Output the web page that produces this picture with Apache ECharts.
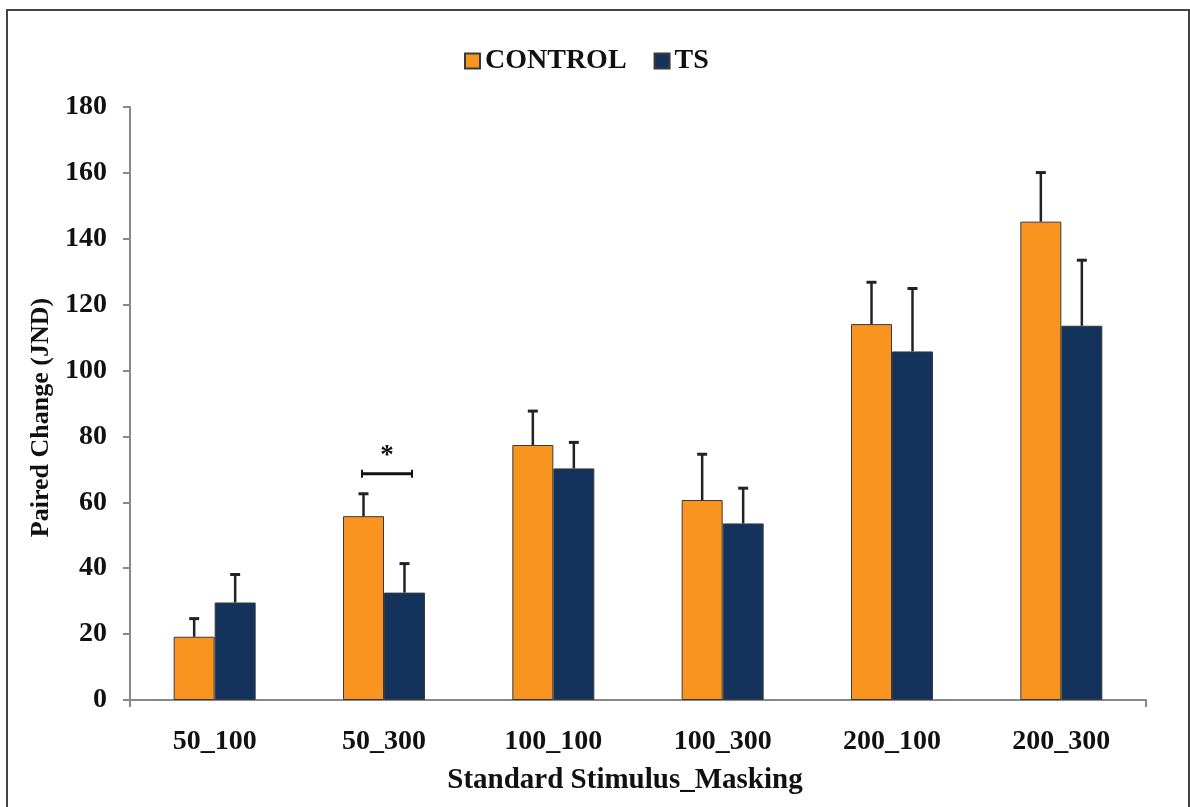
<!DOCTYPE html>
<html>
<head>
<meta charset="utf-8">
<script src="https://cdn.jsdelivr.net/npm/echarts@6/dist/echarts.min.js"></script>
<style>
html,body{margin:0;padding:0;background:#fff;}
#chart{width:1190px;height:807px;}
</style>
</head>
<body>
<div id="chart"></div>
<script>
const categories = ['50_100', '50_300', '100_100', '100_300', '200_100', '200_300'];
const controlValues = [19.2, 55.8, 77.4, 60.7, 114.1, 145.2];
const controlErrors = [5.5, 6.8, 10.3, 13.9, 12.7, 14.9];
const tsValues = [29.6, 32.6, 70.3, 53.6, 105.8, 113.6];
const tsErrors = [8.5, 8.8, 7.9, 10.7, 19.1, 19.9];
const yTicks = [0, 20, 40, 60, 80, 100, 120, 140, 160, 180];
const sigBrackets = [[1, 68.7, '*']];

const FONT = 'Liberation Serif';
const BAR_W = 41;

const chart = echarts.init(document.getElementById('chart'));

function errorSeries(name, values, errors, offsetSign) {
  return {
    name: name + ' error',
    type: 'custom',
    z: 5,
    silent: true,
    data: values.map((v, i) => [i, v, v + errors[i]]),
    renderItem: function (params, api) {
      const base = api.coord([api.value(0), api.value(1)]);
      const top = api.coord([api.value(0), api.value(2)]);
      const x = base[0] + offsetSign * BAR_W / 2;
      const style = { stroke: '#222', lineWidth: 2.5 };
      return {
        type: 'group',
        children: [
          { type: 'line', shape: { x1: x, y1: base[1], x2: x, y2: top[1] }, style: style },
          { type: 'line', shape: { x1: x - 5, y1: top[1], x2: x + 5, y2: top[1] }, style: { stroke: '#222', lineWidth: 3 } }
        ]
      };
    }
  };
}

const option = {
  backgroundColor: '#fff',
  animation: false,
  textStyle: { fontFamily: FONT },
  graphic: [{
    type: 'rect',
    shape: { x: 7, y: 10, width: 1182, height: 820 },
    style: { fill: 'none', stroke: '#444', lineWidth: 2 },
    silent: true
  }],
  legend: {
    top: 42,
    left: 459,
    itemWidth: 15,
    itemHeight: 15,
    itemGap: 27,
    icon: 'rect',
    data: ['CONTROL', 'TS'],
    textStyle: { fontFamily: FONT, fontWeight: 'bold', fontSize: 28, color: '#111' }
  },
  grid: { left: 130, right: 44, top: 107, bottom: 107, containLabel: false },
  xAxis: {
    type: 'category',
    data: categories,
    boundaryGap: true,
    name: 'Standard Stimulus_Masking',
    nameLocation: 'middle',
    nameGap: 66,
    nameTextStyle: { fontFamily: FONT, fontWeight: 'bold', fontSize: 29, color: '#111', padding: [0, 26, 0, 0] },
    axisLine: { show: true, lineStyle: { color: '#888', width: 2 } },
    axisTick: { show: true, length: 7, interval: function (i) { return i === 0; }, lineStyle: { color: '#888', width: 2 } },
    axisLabel: { fontFamily: FONT, fontWeight: 'bold', fontSize: 28, color: '#111', margin: 28, interval: 0 }
  },
  yAxis: {
    type: 'value',
    min: yTicks[0],
    max: yTicks[yTicks.length - 1],
    interval: yTicks[1] - yTicks[0],
    name: 'Paired Change (JND)',
    nameLocation: 'middle',
    nameRotate: 90,
    nameGap: 75,
    nameTextStyle: { fontFamily: FONT, fontWeight: 'bold', fontSize: 26, color: '#111', padding: [0, 28, 0, 0] },
    axisLine: { show: true, lineStyle: { color: '#888', width: 2 } },
    axisTick: { show: true, length: 7, lineStyle: { color: '#888', width: 2 } },
    splitLine: { show: false },
    axisLabel: { fontFamily: FONT, fontWeight: 'bold', fontSize: 28, color: '#111', margin: 23 }
  },
  series: [
    {
      name: 'CONTROL',
      type: 'bar',
      data: controlValues,
      barWidth: BAR_W,
      barGap: '0%',
      itemStyle: { color: '#F8941F', borderColor: '#3a3a3a', borderWidth: 1 }
    },
    {
      name: 'TS',
      type: 'bar',
      data: tsValues,
      barWidth: BAR_W,
      barGap: '0%',
      itemStyle: { color: '#13335D', borderColor: '#3a3a3a', borderWidth: 1 }
    },
    errorSeries('CONTROL', controlValues, controlErrors, -1),
    errorSeries('TS', tsValues, tsErrors, 1),
    {
      name: 'significance',
      type: 'custom',
      z: 6,
      silent: true,
      data: sigBrackets,
      renderItem: function (params, api) {
        const p = api.coord([api.value(0), api.value(1)]);
        const x = p[0] + 3;
        const y = p[1];
        const half = 25;
        const ls = { stroke: '#111', lineWidth: 3 };
        return {
          type: 'group',
          children: [
            { type: 'line', shape: { x1: x - half, y1: y, x2: x + half, y2: y }, style: ls },
            { type: 'line', shape: { x1: x - half, y1: y - 4, x2: x - half, y2: y + 4 }, style: { stroke: '#111', lineWidth: 2 } },
            { type: 'line', shape: { x1: x + half, y1: y - 4, x2: x + half, y2: y + 4 }, style: { stroke: '#111', lineWidth: 2 } },
            { type: 'text', style: { text: sigBrackets[params.dataIndex][2], x: x, y: y - 4, align: 'center', verticalAlign: 'bottom', font: 'bold 27px "Liberation Serif"', fill: '#111' } }
          ]
        };
      }
    }
  ]
};

chart.setOption(option);
</script>
</body>
</html>
